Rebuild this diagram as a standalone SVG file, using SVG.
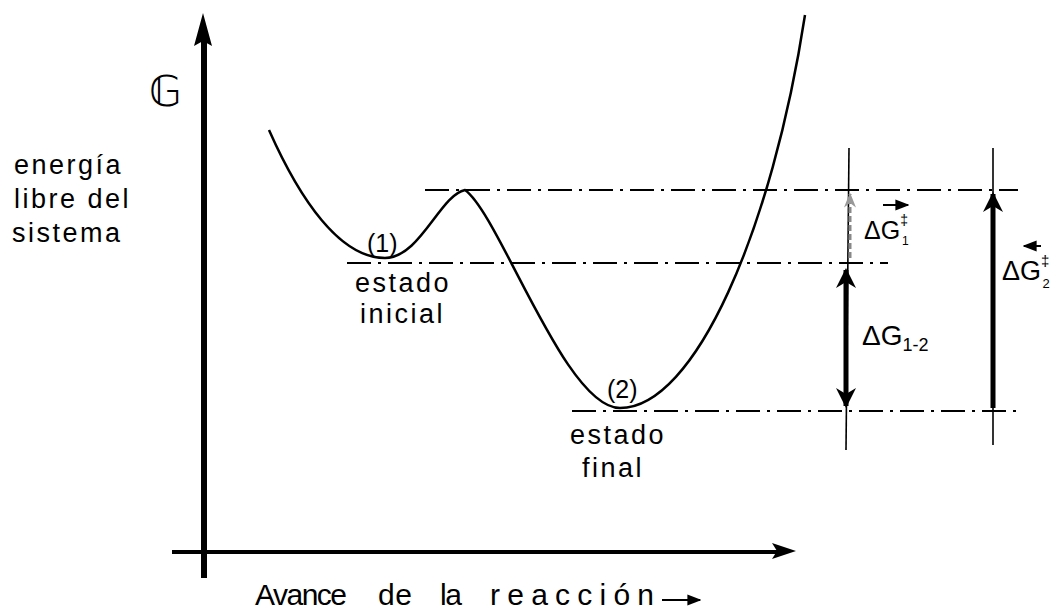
<svg xmlns="http://www.w3.org/2000/svg" width="1062" height="614" viewBox="0 0 1062 614">
<defs>
<marker id="ah" viewBox="0 0 10 10" refX="9" refY="5" markerWidth="4" markerHeight="4" orient="auto-start-reverse" markerUnits="strokeWidth"><path d="M0,0 L10,5 L0,10 L3,5 Z" fill="#000"/></marker>
<marker id="ahs" viewBox="0 0 10 10" refX="9" refY="5" markerWidth="7" markerHeight="7" orient="auto" markerUnits="strokeWidth"><path d="M0,1 L10,5 L0,9 Z" fill="#000"/></marker>
<marker id="ahf" viewBox="0 0 10 10" refX="9" refY="5" markerWidth="5" markerHeight="5" orient="auto" markerUnits="strokeWidth"><path d="M0,1 L10,5 L0,9 L3,5 Z" fill="#999"/></marker>
</defs>
<style>
.t{font-family:"Liberation Sans","DejaVu Sans",sans-serif;fill:#000}
.hand{font-size:27px;letter-spacing:2.5px}
.ax{font-size:30px}
.dd{stroke:#000;stroke-width:2;fill:none;stroke-dasharray:24 7 3 7}
.thin{stroke:#000;stroke-width:1.6;fill:none}
</style>
<rect width="1062" height="614" fill="#fff"/>
<g id="axes">
<path d="M204 578 L204 40" stroke="#000" stroke-width="6"/>
<path d="M203 13 L212 46 L203 41 L194 46 Z" fill="#000"/>
<path d="M172 552 L778 552" stroke="#000" stroke-width="4"/>
<path d="M796 551 L772 543 L777 551 L772 559 Z" fill="#000"/>
</g>
<g id="curve">
<path d="M269 130 C300 200 340 258 385 258 C420 258 440 195 465 190 C500 215 565 408 620 408 C695 408 772 230 805 15" fill="none" stroke="#000" stroke-width="2.5"/>
</g>
<g id="guides">
<line class="dd" x1="425" y1="190" x2="1018" y2="190"/>
<line class="dd" x1="347" y1="263" x2="888" y2="263"/>
<line class="dd" x1="572" y1="411" x2="1018" y2="411"/>
<line class="thin" x1="849" y1="148" x2="846" y2="450"/>
<line class="thin" x1="993" y1="148" x2="993" y2="445"/>
</g>
<g id="connectors">
<line x1="846" y1="270" x2="846" y2="406" stroke="#000" stroke-width="5" marker-start="url(#ah)" marker-end="url(#ah)"/>
<line x1="993" y1="408" x2="993" y2="194" stroke="#000" stroke-width="5" marker-end="url(#ah)"/>
<line x1="850" y1="258" x2="850" y2="194" stroke="#888" stroke-width="3" stroke-dasharray="6 3" marker-end="url(#ahf)"/>
</g>
<g id="label-G"><text class="t" x="149" y="106" font-size="42" font-family="DejaVu Sans">𝔾</text></g>
<g id="label-energia">
<text class="t hand" x="14" y="174">energía</text>
<text class="t hand" x="14" y="208">libre del</text>
<text class="t hand" x="12" y="242">sistema</text>
</g>
<g id="state1">
<text class="t" x="367" y="252" font-size="25">(1)</text>
<text class="t hand" x="355" y="292">estado</text>
<text class="t hand" x="360" y="323">inicial</text>
</g>
<g id="state2">
<text class="t" x="607" y="398" font-size="25">(2)</text>
<text class="t hand" x="570" y="444">estado</text>
<text class="t hand" x="582" y="477">final</text>
</g>
<g id="label-dG12">
<text class="t" x="862" y="345" font-size="28">ΔG<tspan font-size="18" dy="6">1-2</tspan></text>
</g>
<g id="label-dG1">
<text class="t" x="864" y="239" font-size="25">ΔG<tspan font-size="14" dy="-14">‡</tspan><tspan font-size="12" dx="-6" dy="20">1</tspan></text>
<line x1="883" y1="205" x2="908" y2="205" stroke="#000" stroke-width="2" marker-end="url(#ahs)"/>
</g>
<g id="label-dG2">
<text class="t" x="1002" y="280" font-size="27">ΔG<tspan font-size="15" dy="-14">‡</tspan><tspan font-size="13" dx="-7" dy="22">2</tspan></text>
<line x1="1041" y1="246" x2="1024" y2="246" stroke="#000" stroke-width="2" marker-end="url(#ahs)"/>
</g>
<g id="label-xaxis">
<text class="t ax" x="255" y="605" textLength="92" lengthAdjust="spacing">Avance</text>
<text class="t ax" x="378" y="605" textLength="34" lengthAdjust="spacing">de</text>
<text class="t ax" x="440" y="605" textLength="22" lengthAdjust="spacing">la</text>
<text class="t ax" x="490" y="605" textLength="164" lengthAdjust="spacing">reacción</text>
<line x1="662" y1="600" x2="700" y2="600" stroke="#000" stroke-width="2" marker-end="url(#ahs)"/>
</g>
</svg>
